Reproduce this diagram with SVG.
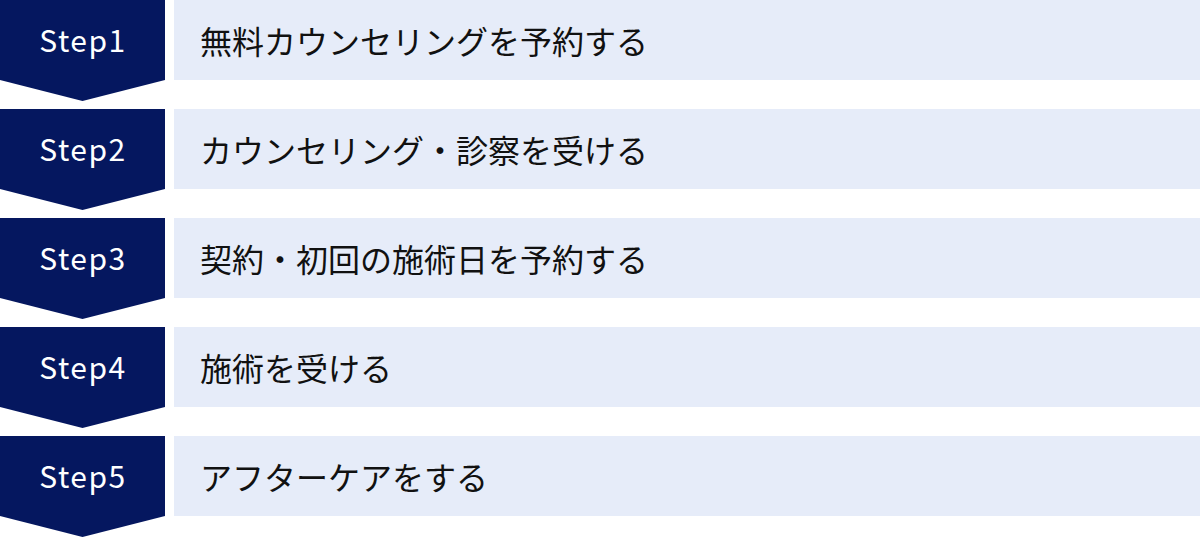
<svg xmlns="http://www.w3.org/2000/svg" width="1200" height="538" viewBox="0 0 1200 538">
<style>
.chev{fill:#05175f}
.bar{fill:#e6ecf9}
.step{font-family:"Noto Sans CJK JP","Noto Sans",sans-serif;font-size:30px;fill:#ffffff;text-anchor:middle;letter-spacing:1.5px}
.lbl{font-family:"Noto Sans CJK JP","Noto Sans",sans-serif;font-size:32px;fill:#111111}
</style>
<defs>
<path id="chevron" d="M0 0H165V80L82.5 101L0 80Z"/>
</defs>
<g id="step1" transform="translate(0,0)">
<use href="#chevron" class="chev"/>
<rect class="bar" x="174" y="0" width="1026" height="80"/>
<text class="step" x="83" y="52">Step1</text>
<text class="lbl" x="200" y="40" dominant-baseline="central">無料カウンセリングを予約する</text>
</g>
<g id="step2" transform="translate(0,109)">
<use href="#chevron" class="chev"/>
<rect class="bar" x="174" y="0" width="1026" height="80"/>
<text class="step" x="83" y="52">Step2</text>
<text class="lbl" x="200" y="40" dominant-baseline="central">カウンセリング・診察を受ける</text>
</g>
<g id="step3" transform="translate(0,218)">
<use href="#chevron" class="chev"/>
<rect class="bar" x="174" y="0" width="1026" height="80"/>
<text class="step" x="83" y="52">Step3</text>
<text class="lbl" x="200" y="40" dominant-baseline="central">契約・初回の施術日を予約する</text>
</g>
<g id="step4" transform="translate(0,327)">
<use href="#chevron" class="chev"/>
<rect class="bar" x="174" y="0" width="1026" height="80"/>
<text class="step" x="83" y="52">Step4</text>
<text class="lbl" x="200" y="40" dominant-baseline="central">施術を受ける</text>
</g>
<g id="step5" transform="translate(0,436)">
<use href="#chevron" class="chev"/>
<rect class="bar" x="174" y="0" width="1026" height="80"/>
<text class="step" x="83" y="52">Step5</text>
<text class="lbl" x="200" y="40" dominant-baseline="central">アフターケアをする</text>
</g>
<g id="connectors"></g>
</svg>
